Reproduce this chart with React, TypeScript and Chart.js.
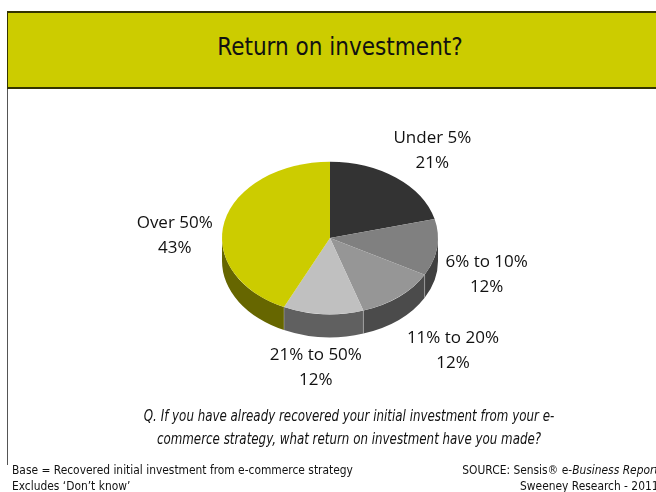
import React, { useEffect, useRef } from "react";
import { Chart, registerables } from "chart.js";

Chart.register(...registerables);

const categories = ["Under 5%", "6% to 10%", "11% to 20%", "21% to 50%", "Over 50%"];
const shares = [21, 12, 12, 12, 43];
const topColors = ["#333333", "#808080", "#969696", "#c0c0c0", "#cccc00"];
const sideColors = ["#1a1a1a", "#404040", "#4b4b4b", "#606060", "#666600"];
// label nudges (px) relative to the slice's outward anchor
const labelNudges: [number, number][] = [
  [13, -6],
  [12, 1],
  [30, 10],
  [-5, 4],
  [-13, 20],
];

const TILT = 0.707;
const DEPTH = 23;
const LABEL_K = 1.35;
const LABEL_FONT = '17px "Open Sans", "DejaVu Sans", sans-serif';
const CONDENSED = '"DejaVu Sans Condensed", "DejaVu Sans", sans-serif';

const pie3d = {
  id: "pie3d",
  beforeDatasetsDraw(chart: any) {
    const meta = chart.getDatasetMeta(0);
    const arcs = meta.data;
    if (!arcs.length) return;
    const { x: cx, y: cy, outerRadius: r } = arcs[0].getProps(["x", "y", "outerRadius"], true);
    const ry = r * TILT;
    const ctx = chart.ctx;
    ctx.save();
    arcs.forEach((arc: any, i: number) => {
      const { startAngle: s, endAngle: e } = arc.getProps(["startAngle", "endAngle"], true);
      for (let k = -1; k <= 1; k++) {
        const lo = Math.max(s, 2 * Math.PI * k);
        const hi = Math.min(e, 2 * Math.PI * k + Math.PI);
        if (hi > lo) {
          ctx.beginPath();
          ctx.ellipse(cx, cy, r, ry, 0, lo, hi, false);
          ctx.ellipse(cx, cy + DEPTH, r, ry, 0, hi, lo, true);
          ctx.closePath();
          ctx.fillStyle = sideColors[i];
          ctx.fill();
        }
      }
    });
    ctx.strokeStyle = "rgba(255,255,255,0.28)";
    ctx.lineWidth = 1;
    arcs.forEach((arc: any) => {
      const { startAngle: s } = arc.getProps(["startAngle"], true);
      const sn = Math.sin(s);
      if (sn > 0.02) {
        const x = cx + r * Math.cos(s);
        const y = cy + ry * sn;
        ctx.beginPath();
        ctx.moveTo(x, y);
        ctx.lineTo(x, y + DEPTH);
        ctx.stroke();
      }
    });
    ctx.restore();
    ctx.save();
    ctx.translate(cx, cy);
    ctx.scale(1, TILT);
    ctx.translate(-cx, -cy);
  },
  afterDatasetsDraw(chart: any) {
    const ctx = chart.ctx;
    ctx.restore();
    const meta = chart.getDatasetMeta(0);
    const arcs = meta.data;
    const vals = chart.data.datasets[0].data as number[];
    const labels = chart.data.labels as string[];
    ctx.save();
    ctx.font = LABEL_FONT;
    ctx.fillStyle = "#111111";
    ctx.textAlign = "center";
    ctx.textBaseline = "middle";
    arcs.forEach((arc: any, i: number) => {
      const { x: cx, y: cy, outerRadius: r, startAngle: s, endAngle: e } = arc.getProps(
        ["x", "y", "outerRadius", "startAngle", "endAngle"],
        true
      );
      const m = (s + e) / 2;
      const ry = r * TILT;
      const sn = Math.sin(m);
      const ax = cx + r * LABEL_K * Math.cos(m) + labelNudges[i][0];
      const ay = cy + ry * LABEL_K * sn + (sn > 0 ? DEPTH : 0) + labelNudges[i][1];
      ctx.fillText(labels[i], ax, ay - 12.5);
      ctx.fillText(vals[i] + "%", ax, ay + 12.5);
    });
    ctx.restore();
  },
};

export default function App() {
  const canvasRef = useRef<HTMLCanvasElement | null>(null);

  useEffect(() => {
    if (!canvasRef.current) return;
    const chart = new Chart(canvasRef.current, {
      type: "pie",
      data: {
        labels: categories,
        datasets: [
          {
            data: shares,
            backgroundColor: topColors,
            borderWidth: 0,
          },
        ],
      },
      options: {
        responsive: false,
        maintainAspectRatio: false,
        animation: false,
        layout: { padding: { left: 222, right: 218, top: 130, bottom: 146 } },
        plugins: {
          legend: { display: false },
          tooltip: { enabled: false },
          title: { display: false },
        },
      },
      plugins: [pie3d],
    });
    return () => chart.destroy();
  }, []);

  return (
    <div
      style={{
        position: "fixed",
        left: 0,
        top: 0,
        width: 656,
        height: 492,
        overflow: "hidden",
        background: "#ffffff",
      }}
    >
      <div
        style={{
          position: "absolute",
          left: 7,
          top: 11,
          width: 664,
          height: 74,
          background: "#cccc00",
          borderTop: "2px solid #333300",
          borderBottom: "2px solid #333300",
          borderLeft: "1px solid #333300",
          display: "flex",
          alignItems: "center",
          justifyContent: "center",
          boxSizing: "content-box",
          fontFamily: CONDENSED,
          fontStretch: "condensed",
          fontSize: 24,
          color: "#111111",
        }}
      >
        <span style={{ position: "relative", top: -3 }}>Return on investment?</span>
      </div>
      <div
        style={{
          position: "absolute",
          left: 7,
          top: 89,
          width: 1,
          height: 376,
          background: "#555555",
        }}
      />
      <canvas
        ref={canvasRef}
        width={656}
        height={492}
        style={{ position: "absolute", left: 0, top: 0, width: 656, height: 492 }}
      />
      <div
        style={{
          position: "absolute",
          left: 49,
          width: 600,
          top: 405,
          textAlign: "center",
          fontFamily: CONDENSED,
          fontStyle: "italic",
          fontSize: 15,
          lineHeight: "23px",
          color: "#111111",
          transform: "scaleX(0.88)",
          transformOrigin: "50% 0",
        }}
      >
        Q. If you have already recovered your initial investment from your e-
        <br />
        commerce strategy, what return on investment have you made?
      </div>
      <div
        style={{
          position: "absolute",
          left: 12,
          top: 462,
          fontFamily: CONDENSED,
          fontSize: 12.5,
          lineHeight: "16px",
          color: "#111111",
          whiteSpace: "nowrap",
          transform: "scaleX(0.95)",
          transformOrigin: "0 0",
        }}
      >
        Base = Recovered initial investment from e-commerce strategy
        <br />
        Excludes ‘Don’t know’
      </div>
      <div
        style={{
          position: "absolute",
          right: -3,
          top: 462,
          textAlign: "right",
          fontFamily: CONDENSED,
          fontSize: 12.5,
          lineHeight: "16px",
          color: "#111111",
          whiteSpace: "nowrap",
          transform: "scaleX(0.95)",
          transformOrigin: "100% 0",
        }}
      >
        SOURCE: Sensis® e-<i>Business Report</i>
        <br />
        Sweeney Research - 2011
      </div>
    </div>
  );
}
